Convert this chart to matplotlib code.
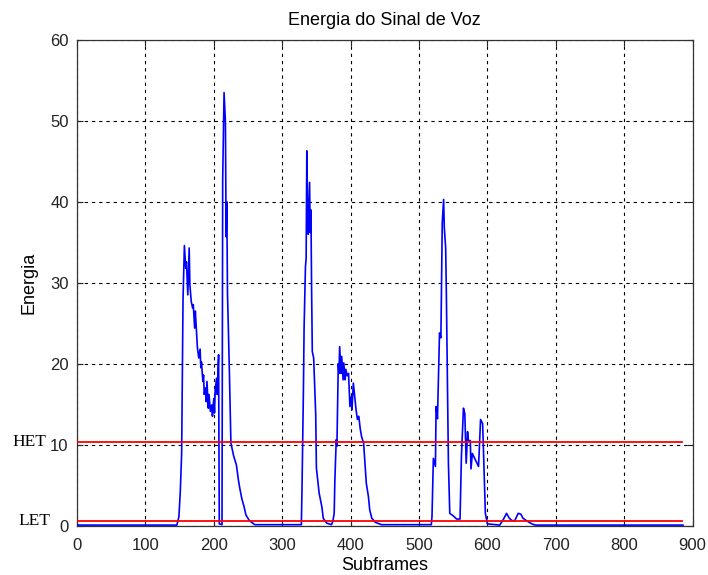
import matplotlib
matplotlib.use("Agg")
import matplotlib.pyplot as plt

# ---- data ----
subframes = [0, 146, 149, 151, 153, 155, 157, 159, 160, 162, 164, 165, 167, 169, 170,
             172, 173, 175, 176, 178, 180, 181, 182, 184, 185, 186, 188, 189, 190, 192,
             193, 195, 197, 198, 200, 201, 202, 204, 205, 207, 208, 212, 213, 215, 217,
             218, 219, 220, 221, 223, 225, 229, 233, 236, 238, 241, 244, 247, 252, 260,
             328, 329, 331, 332, 334, 335, 336, 337, 338, 340, 341, 342, 343, 344, 346,
             349, 350, 354, 358, 360, 365, 372,
             374, 376, 377, 379, 380, 381, 382, 383, 384, 386, 387, 389, 390, 392, 393,
             395, 397, 399, 401, 402, 404, 406, 408, 410, 412, 414, 416, 419, 421, 423,
             426, 428, 431, 436, 445,
             518, 519, 521, 524, 525, 527, 530, 532, 534, 536, 537, 539, 540, 543, 545,
             550, 555, 560, 562, 565, 567, 569, 571, 572, 575, 576, 578, 582, 587, 588,
             590, 593, 594, 597, 600, 618, 623, 628, 632, 636, 640, 645, 649, 652, 657,
             665, 670, 886]
energia = [0.05, 0.05, 1.1, 4.2, 8.9, 27.9, 34.6, 31.8, 32.6, 28.5, 34.3, 29.8, 27.7, 26.9, 27.3,
           24.4, 26.5, 23.6, 22.0, 20.7, 21.8, 19.5, 20.2, 17.8, 18.6, 16.2, 17.0, 15.3, 17.8, 14.5,
           16.2, 14.1, 14.9, 13.5, 15.7, 13.9, 16.6, 18.2, 16.2, 21.1, 0.2, 0.1, 42.8, 53.5, 49.8,
           35.7, 40.0, 28.7, 25.4, 18.2, 10.2, 8.6, 7.5, 5.6, 4.6, 3.3, 2.4, 1.3, 0.6, 0.1,
           0.1, 4.8, 16.6, 24.4, 32.0, 33.0, 46.3, 39.3, 36.0, 42.4, 36.2, 39.0, 29.1, 21.5, 20.7,
           13.7, 7.1, 4.0, 2.3, 0.9, 0.3, 0.1,
           0.5, 1.5, 5.6, 10.6, 9.8, 14.7, 20.0, 18.8, 22.1, 18.8, 20.9, 18.0, 20.1, 18.0, 19.3,
           18.5, 18.8, 14.7, 15.9, 14.3, 17.6, 15.9, 14.3, 13.1, 13.5, 12.0, 11.0, 10.2, 7.7, 5.2,
           3.6, 1.9, 0.9, 0.4, 0.1,
           0.1, 1.1, 8.3, 7.3, 14.7, 13.2, 23.8, 23.2, 37.4, 40.3, 36.8, 34.3, 28.7, 7.7, 1.5,
           1.2, 0.8, 0.8, 8.5, 14.5, 13.8, 7.7, 11.6, 10.5, 10.5, 7.0, 8.9, 8.2, 7.3, 9.1,
           13.1, 12.6, 10.0, 1.5, 0.2, 0.05, 0.7, 1.5, 0.9, 0.6, 0.6, 1.5, 1.4, 0.9, 0.6,
           0.2, 0.05, 0.05]

thresholds = [10.3, 0.55]
threshold_names = ["HET", "LET"]
threshold_span = [0, 884]

xticks = [0, 100, 200, 300, 400, 500, 600, 700, 800, 900]
yticks = [0, 10, 20, 30, 40, 50, 60]

title = "Energia do Sinal de Voz"
xlabel = "Subframes"
ylabel = "Energia"

# ---- figure ----
plt.rcParams['font.family'] = ['Liberation Sans', 'DejaVu Sans']
fig = plt.figure(figsize=(7.08, 5.75), dpi=100)
ax = fig.add_axes([77 / 708, 1 - 525.5 / 575, (692.6 - 77) / 708, (525.5 - 40) / 575])

ax.plot(subframes, energia, color=(0, 0, 1), lw=1.2, zorder=3)
for t in thresholds:
    ax.plot(threshold_span, [t, t], color=(1, 0, 0), lw=1.3, zorder=4)

ax.set_xlim(0, 900)
ax.set_ylim(0, 60)
ax.set_xticks(xticks)
ax.set_yticks(yticks)
ax.grid(True, color='black', linestyle=(0, (3, 3.5)), lw=0.8)
ax.set_axisbelow(True)

ax.tick_params(direction='in', length=4, width=0.8, top=True, right=True,
               labelsize=12, colors='#222222')
ax.tick_params(axis='x', pad=9)
ax.tick_params(axis='y', pad=6)
for s in ax.spines.values():
    s.set_color('#333333')
    s.set_linewidth(0.9)

ax.set_title(title, fontsize=13, pad=11)
ax.set_xlabel(xlabel, fontsize=13, labelpad=3)
ax.set_ylabel(ylabel, fontsize=13, labelpad=9)

# threshold names to the left of the axes
label_x = [-94, -85]
for name, t, lx in zip(threshold_names, thresholds, label_x):
    ax.text(lx, t, name, fontsize=12.5, family=['Liberation Serif', 'DejaVu Serif'],
            ha='left', va='center', clip_on=False)

fig.savefig("out.png", dpi=100)
